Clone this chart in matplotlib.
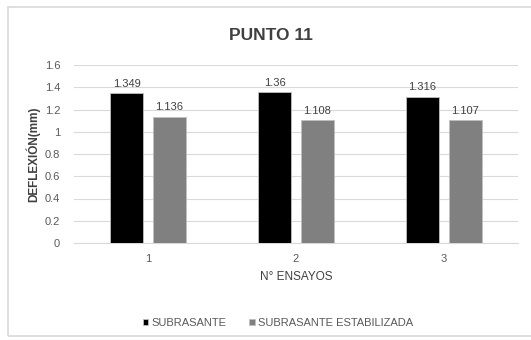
import matplotlib
matplotlib.use("Agg")
import matplotlib.pyplot as plt
from matplotlib.patches import Rectangle
import numpy as np

ensayos = ["1", "2", "3"]
subrasante = [1.349, 1.36, 1.316]
estabilizada = [1.136, 1.108, 1.107]
labels_sub = ["1.349", "1.36", "1.316"]
labels_est = ["1.136", "1.108", "1.107"]
yticks = [0, 0.2, 0.4, 0.6, 0.8, 1, 1.2, 1.4, 1.6]
ytick_labels = ["0", "0.2", "0.4", "0.6", "0.8", "1", "1.2", "1.4", "1.6"]

plt.rcParams["font.family"] = ["Liberation Sans", "DejaVu Sans"]
txt = "#595959"

fig = plt.figure(figsize=(5.31, 3.40), dpi=100)
fig.patches.append(Rectangle((8 / 531, 1 - 336 / 340), 1, (336 - 7) / 340,
                             transform=fig.transFigure, fill=False,
                             edgecolor="#d9d9d9", linewidth=1.2))

ax = fig.add_axes([74 / 531, 1 - 243 / 340, 444 / 531, 178 / 340])
x = np.arange(len(ensayos))
w = 0.22
off = 0.145
b1 = ax.bar(x - off, subrasante, w, color="#000000", edgecolor="#bfbfbf",
            linewidth=0.6, label="SUBRASANTE", zorder=3)
b2 = ax.bar(x + off, estabilizada, w, color="#808080", edgecolor="#bfbfbf",
            linewidth=0.6, label="SUBRASANTE ESTABILIZADA", zorder=3)
ax.bar_label(b1, labels=labels_sub, padding=3, fontsize=8, color="#404040")
ax.bar_label(b2, labels=labels_est, padding=3, fontsize=8, color="#404040")

ax.set_xlim(-0.5, 2.5)
ax.set_ylim(0, 1.6)
ax.set_yticks(yticks)
ax.set_yticklabels(ytick_labels)
ax.set_xticks(x)
ax.set_xticklabels(ensayos)
ax.tick_params(axis="both", length=0, labelsize=8, colors=txt)
ax.tick_params(axis="y", pad=10)
ax.tick_params(axis="x", pad=8)
ax.grid(axis="y", color="#d9d9d9", linewidth=0.8, zorder=0)
for s in ["top", "right", "left"]:
    ax.spines[s].set_visible(False)
ax.spines["bottom"].set_color("#d9d9d9")

ax.set_xlabel("N° ENSAYOS", fontsize=8.5, color="#404040", labelpad=5)
ax.set_ylabel("DEFLEXIÓN(mm)", fontsize=8.5, color="#404040", fontweight="bold", labelpad=3)

fig.text(271 / 531, 1 - 35 / 340, "PUNTO 11", ha="center", va="center",
         fontsize=12.5, color="#404040", fontweight="bold")

fig.legend(handles=[b1, b2], loc="center", bbox_to_anchor=(278 / 531, 1 - 323 / 340),
           ncol=2, frameon=False, fontsize=8, labelcolor=txt,
           handlelength=0.5, handleheight=0.5, handletextpad=0.3, columnspacing=2.0)

fig.savefig("out.png", dpi=100)
